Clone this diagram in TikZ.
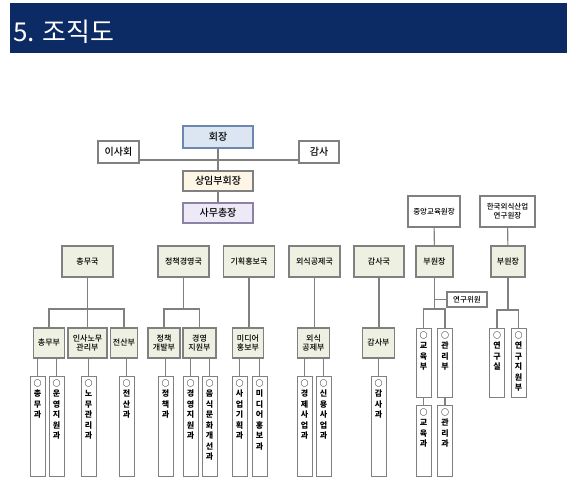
\documentclass[tikz,border=0pt]{standalone}
\usepackage{fontspec}
\setmainfont{Noto Sans CJK KR}
\newfontfamily\medfont{Noto Sans CJK KR Medium}
\definecolor{navy}{RGB}{12,42,100}
\definecolor{lc}{RGB}{128,128,128}
\definecolor{gfill}{RGB}{238,241,226}
\definecolor{bluefill}{RGB}{220,230,242}
\definecolor{blueline}{RGB}{110,135,175}
\definecolor{creamfill}{RGB}{253,245,230}
\definecolor{lavfill}{RGB}{237,233,247}
\definecolor{lavline}{RGB}{140,130,165}
\begin{document}
\begin{tikzpicture}[x=1pt,y=-1pt,
  box/.style={draw=lc, line width=1.1pt, fill=gfill, inner sep=0pt, align=center, font=\medfont\fontsize{8}{9.5}\selectfont},
  wbox/.style={box, fill=white},
  vbox/.style={draw=lc, line width=1pt, fill=white, minimum width=15pt, inner sep=0pt},
  vtext/.style={anchor=north, align=center, inner sep=0pt, font=\bfseries\fontsize{8}{10.5}\selectfont},
  conn/.style={draw=lc, line width=1.1pt}]
\useasboundingbox (0,0) rectangle (567,481);
% header
\fill[navy] (10,3) rectangle (567,53);
\node[anchor=base west, text=white, inner sep=0pt, font=\fontsize{26}{26}\selectfont] (title) at (13,42) {5. 조직도};
% top
\node[box, fill=bluefill, draw=blueline, minimum width=70pt, minimum height=22pt, font=\medfont\fontsize{10}{12}\selectfont] (hoejang) at (218,137) {회장};
\node[wbox, minimum width=41pt, minimum height=22pt, font=\medfont\fontsize{10}{12}\selectfont] (isa) at (118.5,152) {이사회};
\node[wbox, minimum width=40pt, minimum height=22pt, font=\medfont\fontsize{10}{12}\selectfont] (gamsa) at (319,152) {감사};
\node[box, fill=creamfill, minimum width=70pt, minimum height=20pt, font=\medfont\fontsize{10}{12}\selectfont] (sangim) at (218,181) {상임부회장};
\node[box, fill=lavfill, draw=lavline, minimum width=70pt, minimum height=20pt, font=\medfont\fontsize{10}{12}\selectfont] (samu) at (218,213) {사무총장};
\coordinate (hline) at (218,160);
\draw[conn] (isa.east |- hline) -- (gamsa.west |- hline);
\draw[conn] (hoejang) -- (sangim);
\draw[conn] (sangim) -- (samu);
% right top
\node[wbox, minimum width=52pt, minimum height=31pt, font=\medfont\fontsize{7.5}{9}\selectfont] (jungang) at (434,211.5) {중앙교육원장};
\node[wbox, minimum width=55pt, minimum height=31pt, font=\medfont\fontsize{7.5}{9}\selectfont] (hanguk) at (507.5,211.5) {한국외식산업\\연구원장};
\node[box, minimum width=37pt, minimum height=31pt] (bu1) at (434.5,261.5) {부원장};
\node[box, minimum width=34pt, minimum height=31pt] (bu2) at (508,261.5) {부원장};
\draw[conn] (jungang) -- (bu1);
\draw[conn] (hanguk) -- (bu2);
% departments
\node[box, minimum width=51pt, minimum height=31pt] (chongmuguk) at (87.5,261.5) {총무국};
\node[box, minimum width=51pt, minimum height=31pt] (jeongguk) at (183.5,261.5) {정책경영국};
\node[box, minimum width=51pt, minimum height=31pt] (gihoekguk) at (249,261.5) {기획홍보국};
\node[box, minimum width=51pt, minimum height=31pt] (oesikguk) at (314.5,261.5) {외식공제국};
\node[box, minimum width=50pt, minimum height=31pt] (gamsaguk) at (379,261.5) {감사국};
% row 2
\node[box, minimum width=31pt, minimum height=30pt] (chongmubu) at (49,343) {총무부};
\node[box, minimum width=39pt, minimum height=30pt] (insabu) at (87.5,343) {인사노무\\관리부};
\node[box, minimum width=27pt, minimum height=30pt] (jeonsanbu) at (124,343) {전산부};
\node[box, minimum width=32pt, minimum height=30pt] (gaebalbu) at (164,343) {정책\\개발부};
\node[box, minimum width=33pt, minimum height=30pt] (jiwonbu) at (199.5,343) {경영\\지원부};
\node[box, minimum width=31pt, minimum height=30pt] (midieobu) at (248,343) {미디어\\홍보부};
\node[box, minimum width=32pt, minimum height=30pt] (gongjebu) at (313.5,343) {외식\\공제부};
\node[box, minimum width=32pt, minimum height=30pt] (gamsabu) at (378.5,343) {감사부};
% trees
\coordinate (j1) at (88,309);
\draw[conn] (chongmuguk.south) -- (insabu.north);
\draw[conn] (chongmubu.north) |- (j1) -| (jeonsanbu.north);
\coordinate (j2) at (183.5,309);
\draw[conn] (jeongguk.south) -- (j2);
\draw[conn] (gaebalbu.north) |- (j2) -| (jiwonbu.north);
\draw[conn] (gihoekguk.south) -- (gihoekguk.south |- midieobu.north);
\draw[conn] (oesikguk.south) -- (oesikguk.south |- gongjebu.north);
\draw[conn] (gamsaguk.south) -- (gamsaguk.south |- gamsabu.north);
% row 3
\foreach \n/\x/\p/\t in {
  ga/37.5/chongmubu/{○\\총\\무\\과},
  gb/56.5/chongmubu/{○\\운\\영\\지\\원\\과},
  gc/88.5/insabu/{○\\노\\무\\관\\리\\과},
  gd/126.5/jeonsanbu/{○\\전\\산\\과},
  ge/165.5/gaebalbu/{○\\정\\책\\과},
  gf/190.5/jiwonbu/{○\\경\\영\\지\\원\\과},
  gg/209.5/jiwonbu/{○\\음\\식\\문\\화\\개\\선\\과},
  gh/239.5/midieobu/{○\\사\\업\\기\\획\\과},
  gi/259.5/midieobu/{○\\미\\디\\어\\홍\\보\\과},
  gj/304.5/gongjebu/{○\\경\\제\\사\\업\\과},
  gk/323.5/gongjebu/{○\\신\\용\\사\\업\\과},
  gl/378.5/gamsabu/{○\\감\\사\\과}} {
  \node[vbox, minimum height=100pt] (\n) at (\x,426) {};
  \node[vtext] (\n-t) at ([yshift=-4pt]\n.north) {\t};
  \draw[conn] (\n.north) -- (\n.north |- \p.south);
}
% right side lower
\node[wbox, minimum width=40pt, minimum height=15pt, font=\medfont\fontsize{7.5}{9}\selectfont] (yeongu) at (467,299.5) {연구위원};
\coordinate (j3) at (434.5,309);
\coordinate (j4) at (508,310);
\node[vbox, minimum height=69pt] (gyoyukbu) at (423.5,362.5) {};
\node[vbox, minimum height=69pt] (gwanribu) at (445,362.5) {};
\node[vbox, minimum height=71pt] (gyoyukgwa) at (423.5,440.5) {};
\node[vbox, minimum height=71pt] (gwanrigwa) at (445,440.5) {};
\node[vbox, minimum height=69pt] (yeongusil) at (497,362.5) {};
\node[vbox, minimum height=69pt] (jiwon2) at (518.5,362.5) {};
\node[vtext] (gyoyukbu-t) at ([yshift=-4pt]gyoyukbu.north) {○\\교\\육\\부};
\node[vtext] (gwanribu-t) at ([yshift=-4pt]gwanribu.north) {○\\관\\리\\부};
\node[vtext] (gyoyukgwa-t) at ([yshift=-4pt]gyoyukgwa.north) {○\\교\\육\\과};
\node[vtext] (gwanrigwa-t) at ([yshift=-4pt]gwanrigwa.north) {○\\관\\리\\과};
\node[vtext] (yeongusil-t) at ([yshift=-4pt]yeongusil.north) {○\\연\\구\\실};
\node[vtext] (jiwon2-t) at ([yshift=-4pt]jiwon2.north) {○\\연\\구\\지\\원\\부};
\draw[conn] (bu1.south) -- (j3);
\draw[conn] (bu1.south |- yeongu.west) -- (yeongu.west);
\draw[conn] (gyoyukbu.north) |- (j3) -| (gwanribu.north);
\draw[conn] (gyoyukbu) -- (gyoyukgwa);
\draw[conn] (gwanribu) -- (gwanrigwa);
\draw[conn] (bu2.south) -- (j4);
\draw[conn] (yeongusil.north) |- (j4) -| (jiwon2.north);
\end{tikzpicture}
\end{document}
